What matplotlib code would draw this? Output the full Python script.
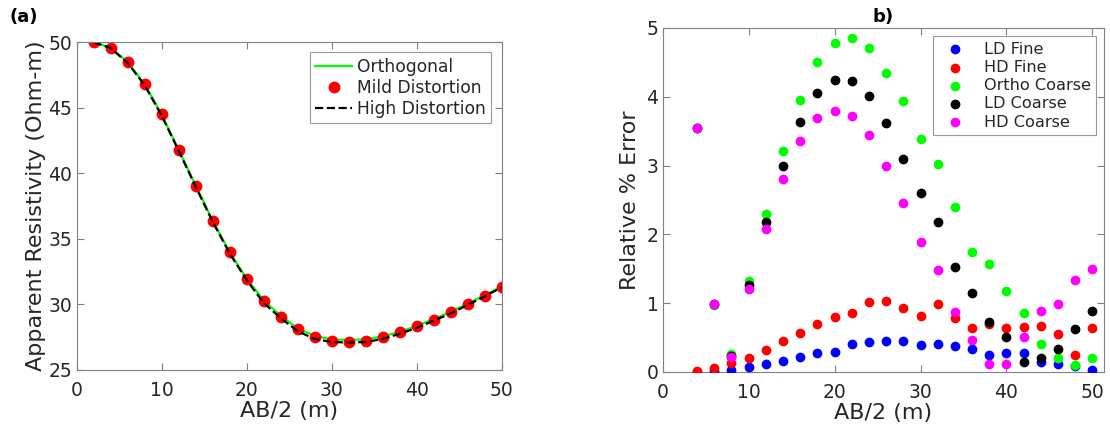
import numpy as np
import matplotlib.pyplot as plt

# panel (a) data
ab2_a = [2, 4, 6, 8, 10, 12, 14, 16, 18, 20, 22, 24, 26, 28, 30, 32, 34, 36, 38, 40, 42, 44, 46, 48, 50]
ortho = [50.0, 49.57, 48.47, 46.8, 44.48, 41.8, 39.06, 36.39, 33.97, 31.96, 30.3, 29.13, 28.15, 27.6,
         27.32, 27.28, 27.32, 27.55, 27.9, 28.35, 28.87, 29.43, 30.05, 30.68, 31.38]
mild = [50.0, 49.57, 48.47, 46.8, 44.48, 41.8, 39.06, 36.39, 33.97, 31.96, 30.25, 29.06, 28.09, 27.5,
        27.2, 27.12, 27.2, 27.48, 27.86, 28.32, 28.83, 29.4, 30.03, 30.66, 31.35]
high = [50.0, 49.55, 48.42, 46.72, 44.4, 41.72, 38.98, 36.3, 33.88, 31.85, 30.1, 28.95, 27.95, 27.35,
        27.12, 27.08, 27.12, 27.35, 27.75, 28.2, 28.75, 29.3, 29.95, 30.6, 31.3]

# panel (b) data
ab2_b = [4, 6, 8, 10, 12, 14, 16, 18, 20, 22, 24, 26, 28, 30, 32, 34, 36, 38, 40, 42, 44, 46, 48, 50]
ld_fine = [0.0, 0.01, 0.03, 0.07, 0.11, 0.16, 0.22, 0.28, 0.29, 0.41, 0.44, 0.45,
           0.45, 0.39, 0.41, 0.38, 0.34, 0.25, 0.27, 0.28, 0.14, 0.11, 0.09, 0.03]
hd_fine = [0.02, 0.06, 0.13, 0.21, 0.32, 0.45, 0.57, 0.70, 0.80, 0.86, 1.01, 1.03,
           0.93, 0.81, 0.99, 0.78, 0.64, 0.70, 0.64, 0.66, 0.67, 0.55, 0.24, 0.64]
ortho_coarse = [3.55, 0.98, 0.26, 1.32, 2.30, 3.21, 3.95, 4.51, 4.78, 4.86, 4.71, 4.35,
                3.94, 3.38, 3.02, 2.40, 1.75, 1.57, 1.17, 0.86, 0.40, 0.20, 0.10, 0.21]
ld_coarse = [3.55, 0.99, 0.23, 1.26, 2.18, 2.99, 3.63, 4.05, 4.25, 4.23, 4.01, 3.62,
             3.10, 2.60, 2.18, 1.52, 1.15, 0.72, 0.51, 0.14, 0.20, 0.33, 0.62, 0.88]
hd_coarse = [3.55, 0.99, 0.22, 1.20, 2.08, 2.81, 3.36, 3.69, 3.80, 3.72, 3.44, 2.99,
             2.46, 1.89, 1.48, 0.87, 0.47, 0.12, 0.12, 0.51, 0.88, 0.99, 1.33, 1.50]

plt.rcParams['font.family'] = 'DejaVu Sans'
txt = '#262626'
edge = '#808080'

fig = plt.figure(figsize=(11.1, 4.3), dpi=100)


def style(ax):
    for s in ax.spines.values():
        s.set_color(edge)
        s.set_linewidth(0.8)
    ax.tick_params(direction='in', top=True, right=True, color=edge, labelcolor=txt,
                   labelsize=13.5, length=5, width=0.8, pad=3)
    ax.tick_params(axis='x', pad=8)


# (a)
ax1 = fig.add_axes([0.069, 0.14, 0.383, 0.762])
ax1.plot(ab2_a, ortho, color='#00ff00', lw=1.6, label='Orthogonal')
ax1.plot(ab2_a, mild, 'o', color='red', ms=7.5, ls='none', label='Mild Distortion')
ax1.plot(ab2_a, high, '--', color='black', lw=1.6, label='High Distortion')
ax1.set_xlim(0, 50)
ax1.set_ylim(25, 50)
ax1.set_xticks([0, 10, 20, 30, 40, 50])
ax1.set_yticks([25, 30, 35, 40, 45, 50])
ax1.set_xlabel('AB/2 (m)', fontsize=16, color=txt, labelpad=1)
ax1.set_ylabel('Apparent Resistivity (Ohm-m)', fontsize=16, color=txt, labelpad=2)
style(ax1)
leg1 = ax1.legend(loc='upper right', fontsize=12.3, frameon=True, fancybox=False,
                  handlelength=2.2, handletextpad=0.3, borderpad=0.3, labelspacing=0.2,
                  borderaxespad=0.6)
leg1.get_frame().set_edgecolor(edge)
leg1.get_frame().set_linewidth(0.8)
for t in leg1.get_texts():
    t.set_color(txt)
fig.text(0.009, 0.95, '(a)', fontsize=13, fontweight='bold', color='black')

# (b)
ax2 = fig.add_axes([0.597, 0.135, 0.398, 0.8])
ax2.scatter(ab2_b, ld_fine, s=36, color='#0000ff', label='LD Fine', zorder=3)
ax2.scatter(ab2_b, hd_fine, s=36, color='#ff0000', label='HD Fine', zorder=3)
ax2.scatter(ab2_b, ortho_coarse, s=36, color='#00ff00', label='Ortho Coarse', zorder=3)
ax2.scatter(ab2_b, ld_coarse, s=36, color='black', label='LD Coarse', zorder=3)
ax2.scatter(ab2_b, hd_coarse, s=36, color='#ff00ff', label='HD Coarse', zorder=3)
ax2.set_xlim(0, 51.4)
ax2.set_ylim(0, 5)
ax2.set_xticks([0, 10, 20, 30, 40, 50])
ax2.set_yticks([0, 1, 2, 3, 4, 5])
ax2.set_xlabel('AB/2 (m)', fontsize=16, color=txt, labelpad=1)
ax2.set_ylabel('Relative % Error', fontsize=16, color=txt, labelpad=5)
ax2.set_title('b)', fontsize=13, fontweight='bold', pad=4)
style(ax2)
leg2 = ax2.legend(loc='upper right', fontsize=11.6, frameon=True, fancybox=False,
                  handletextpad=0.8, borderpad=0.35, labelspacing=0.2, borderaxespad=0.5,
                  scatterpoints=1)
leg2.get_frame().set_edgecolor(edge)
leg2.get_frame().set_linewidth(0.8)
for t in leg2.get_texts():
    t.set_color(txt)

fig.savefig('out.png', dpi=100)
